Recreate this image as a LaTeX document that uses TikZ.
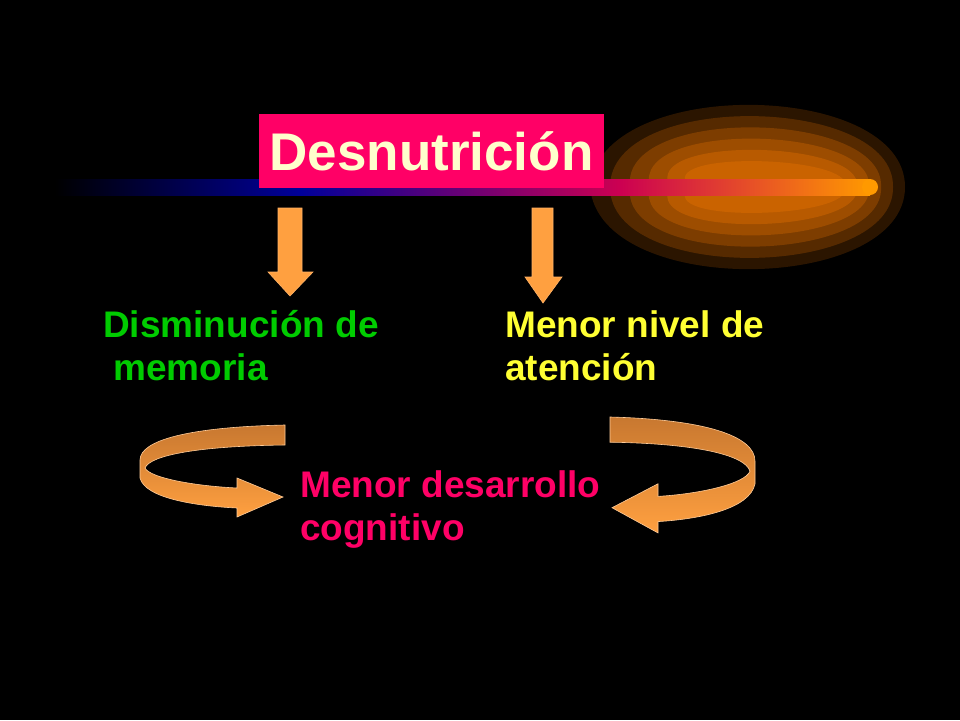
\documentclass[tikz,border=0pt]{standalone}
\usepackage{fontspec}
\setmainfont{Liberation Sans}
\definecolor{orng}{HTML}{FFA040}
\definecolor{dorng}{HTML}{C87830}
\definecolor{pinkc}{HTML}{FF0066}
\definecolor{grn}{HTML}{00CC00}
\definecolor{ylw}{HTML}{FFFF33}
\definecolor{cream}{HTML}{FFFFCC}
\tikzset{
  lbl/.style={font=\bfseries\fontsize{37}{40}\selectfont, anchor=base west, inner sep=0pt},
  darrow/.style={fill=orng, draw=orange!60!white, line width=0.6pt},
  ribbon/.style={top color=dorng, bottom color=orng, draw=orange!40!white, line width=0.6pt}
}
\begin{document}
\begin{tikzpicture}[x=1pt,y=-1pt]
\fill[black] (0,0) rectangle (960,720);
\useasboundingbox (0,0) rectangle (960,720);
% comet glow
\foreach \i/\o in {0/0.2,1/0.25,2/0.3,3/0.35,4/0.45,5/0.55}{
  \fill[orange!85!black, opacity=\o] (590+20*\i,187) .. controls (600+10*\i,75+15*\i) and (905-10*\i,80+15*\i) .. (905-12*\i,187)
     .. controls (905-10*\i,294-15*\i) and (600+10*\i,299-15*\i) .. (590+20*\i,187);
}
% beam
\shade[left color=black, right color=blue!60!black] (55,179) rectangle (300,195);
\shade[left color=blue!60!black, right color=pinkc!80!black] (300,179) rectangle (620,195);
\shade[left color=pinkc!80!black, right color=orange!80!yellow] (620,179) rectangle (870,195);
\fill[orange!80!yellow] (870,187) circle (8);
% title
\node[fill=pinkc, minimum width=345, minimum height=74, inner sep=0pt, text=cream,
  font=\bfseries\fontsize{53}{60}\selectfont] (t) at (431.5,151) {Desnutrición};
% down arrows
\draw[darrow] (278,208) -- (302,208) -- (302,272) -- (313,272) -- (290,296) -- (268,272) -- (278,272) -- cycle;
\draw[darrow] (532,208) -- (553,208) -- (553,277) -- (562,277) -- (543,303) -- (525,277) -- (532,277) -- cycle;
% labels
\node[lbl, text=grn] (a1) at (103,337) {Disminución de};
\node[lbl, text=grn] (a2) at (103,380) {\ memoria};
\node[lbl, text=ylw] (b1) at (505,337) {Menor nivel de};
\node[lbl, text=ylw] (b2) at (505,380) {atención};
\node[lbl, text=pinkc] (c1) at (300,497) {Menor desarrollo};
\node[lbl, text=pinkc] (c2) at (300,540) {cognitivo};
% curved arrows
\def\rib{(285,425) .. controls (190,427) and (140,440) .. (140,460) -- (140,478)
  .. controls (145,498) and (195,506) .. (237,508) -- (237,517) -- (283,497) -- (237,478) -- (237,488)
  .. controls (195,486) and (150,478) .. (145,468) .. controls (150,455) and (200,446) .. (285,445) -- cycle}
\draw[ribbon] \rib;
\begin{scope}[shift={(895,-118.5)}, xscale=-1, yscale=1.26]
\draw[ribbon] \rib;
\end{scope}
\end{tikzpicture}
\end{document}
